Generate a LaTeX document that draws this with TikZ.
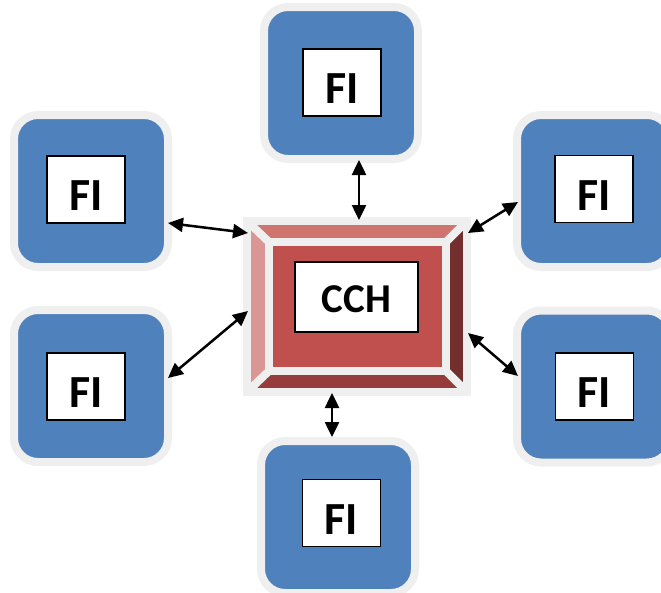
\documentclass[tikz,border=0pt]{standalone}
\usepackage{fontspec}
\setmainfont{Carlito}
\usetikzlibrary{arrows.meta,calc}
\definecolor{fiblue}{HTML}{4F81BD}
\definecolor{rimgrey}{HTML}{EFEFEF}
\definecolor{bvtop}{HTML}{D07470}
\definecolor{bvleft}{HTML}{DA9694}
\definecolor{bvright}{HTML}{732E2E}
\definecolor{bvbottom}{HTML}{963C3B}
\definecolor{bvface}{HTML}{C0504D}
\tikzset{
  fibox/.style={rectangle, rounded corners=24pt, fill=fiblue, draw=rimgrey, line width=8pt,
    minimum width=154pt, minimum height=152pt, inner sep=0pt, outer sep=0pt},
  filabel/.style={rectangle, fill=white, draw=black, line width=1.5pt,
    minimum width=78pt, minimum height=67pt, inner sep=0pt,
    font=\fontsize{46}{46}\selectfont\bfseries, text height=42pt, text depth=0pt},
  cchlabel/.style={rectangle, fill=white, draw=black, line width=1.5pt,
    minimum width=123pt, minimum height=70pt, inner sep=0pt,
    font=\fontsize{41}{41}\selectfont\bfseries, text height=30pt, text depth=0pt},
  cchframe/.style={rectangle, draw=rimgrey, line width=8pt, minimum width=220pt,
    minimum height=171pt, inner sep=0pt, outer sep=0pt},
  bevelline/.style={draw=rimgrey, line width=8pt, line join=miter},
  biarrow/.style={{Triangle[length=15pt,width=14pt]}-{Triangle[length=15pt,width=14pt]}, line width=2.5pt, black}
}
\begin{document}
\begin{tikzpicture}[x=1pt,y=-1pt]
\clip (0,0) rectangle (661,592);
% FI boxes
\node[fibox] (fiT)  at (341,83) {};
\node[fibox] (fiLT) at (91,191) {};
\node[fibox] (fiRT) at (594,191) {};
\node[fibox] (fiLB) at (91,386) {};
\node[fibox] (fiRB) at (594,386.5) {};
\node[fibox] (fiB)  at (338,517) {};
\node[filabel] (fiTl)  at (342,82.5) {FI};
\node[filabel] (fiLTl) at (86,189.5) {FI};
\node[filabel] (fiRTl) at (594,189) {FI};
\node[filabel] (fiLBl) at (86,386.5) {FI};
\node[filabel] (fiRBl) at (594.5,386.5) {FI};
\node[filabel] (fiBl)  at (341.5,513) {FI};
% CCH bevel
\fill[bvtop]    (247,221) -- (467,221) -- (446,242) -- (269,242) -- cycle;
\fill[bvleft]   (247,221) -- (269,242) -- (269,371) -- (247,392) -- cycle;
\fill[bvright]  (467,221) -- (467,392) -- (446,371) -- (446,242) -- cycle;
\fill[bvbottom] (247,392) -- (269,371) -- (446,371) -- (467,392) -- cycle;
\fill[bvface]   (269,242) rectangle (446,371);
\draw[bevelline] (269,242) rectangle (446,371);
\draw[bevelline] (247,221) -- (269,242) (467,221) -- (446,242)
                 (247,392) -- (269,371) (467,392) -- (446,371);
\node[cchframe] (cch) at (357,306.5) {};
\node[cchlabel] (cchl) at (356.5,297) {CCH\hspace{12pt}};
% connectors
\draw[biarrow] ([xshift=18pt,yshift=-1pt]fiT.south) -- ([xshift=2pt,yshift=1pt]cch.north);
\draw[biarrow] ([yshift=-32pt]fiLT.east) -- ([xshift=1pt,yshift=73.5pt]cch.west);
\draw[biarrow] ([xshift=1pt,yshift=73.5pt]cch.east) -- ([xshift=1pt,yshift=-11pt]fiRT.west);
\draw[biarrow] ([yshift=8pt]fiLB.east) -- ([xshift=1pt,yshift=-4.5pt]cch.west);
\draw[biarrow] ([xshift=1pt,yshift=-26.5pt]cch.east) -- ([xshift=1pt,yshift=10.5pt]fiRB.west);
\draw[biarrow] ([xshift=-25pt,yshift=-1pt]cch.south) -- ([xshift=-6pt,yshift=4pt]fiB.north);
\end{tikzpicture}
\end{document}
